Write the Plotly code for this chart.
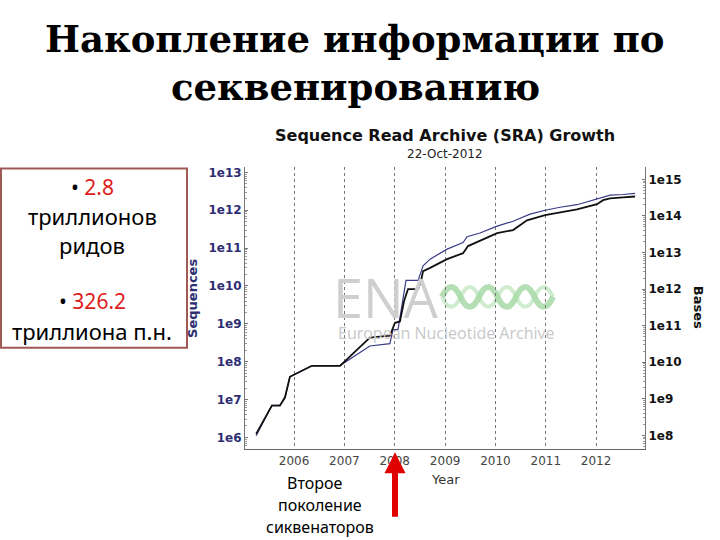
import plotly.graph_objects as go

# ---- data ----
seq_dates = ["2005-04-01", "2005-07-24", "2005-09-20", "2005-10-27", "2005-12-02",
             "2006-05-11", "2006-11-30", "2007-07-05", "2007-11-27", "2007-12-20",
             "2008-01-25", "2008-02-23", "2008-03-23", "2008-06-19", "2008-07-25",
             "2008-09-14", "2009-01-15", "2009-05-11", "2009-06-09", "2009-09-11",
             "2010-01-13", "2010-05-09", "2010-09-09", "2010-12-27", "2011-04-15",
             "2011-08-16", "2012-01-08", "2012-04-12", "2012-07-15", "2012-10-10"]
seq_values = [1.1e6, 7.0e6, 7.0e6, 1.1e7, 4.0e7,
              7.9e7, 7.9e7, 2.6e8, 3.0e8, 7.0e8,
              7.0e8, 3.0e9, 1.4e10, 1.4e10, 3.4e10,
              5.1e10, 9.4e10, 1.4e11, 2.0e11, 2.5e11,
              3.8e11, 5.1e11, 7.9e11, 1.0e12, 1.2e12,
              1.4e12, 2.0e12, 2.5e12, 2.6e12, 2.8e12]

base_dates = ["2005-04-01", "2005-07-24", "2005-09-20", "2005-10-27", "2005-12-02",
              "2006-05-11", "2006-11-30", "2007-07-05", "2007-11-27", "2008-01-03",
              "2008-02-08", "2008-03-09", "2008-04-07", "2008-06-19", "2008-07-10",
              "2008-07-25", "2008-09-14", "2009-01-15", "2009-05-11", "2009-06-16",
              "2010-01-13", "2010-05-09", "2010-08-18", "2010-12-27", "2011-08-16",
              "2012-01-08", "2012-02-21", "2012-04-12", "2012-07-15", "2012-10-10"]
base_values = [1.1e8, 6.5e8, 6.5e8, 1.1e9, 4.0e9,
               8.0e9, 8.0e9, 4.7e10, 5.3e10, 1.2e11,
               1.3e11, 4.7e11, 1.0e12, 1.0e12, 1.7e12,
               3.1e12, 3.8e12, 6.6e12, 9.6e12, 1.5e13,
               3.4e13, 4.1e13, 7.6e13, 1.05e14, 1.5e14,
               2.1e14, 2.7e14, 3.0e14, 3.2e14, 3.4e14]

year_ticks = ["2006-01-01", "2007-01-01", "2008-01-01", "2009-01-01",
              "2010-01-01", "2011-01-01", "2012-01-01"]
year_labels = ["2006", "2007", "2008", "2009", "2010", "2011", "2012"]
seq_tickvals = [1e6, 1e7, 1e8, 1e9, 1e10, 1e11, 1e12, 1e13]
seq_ticktext = ["1e6", "1e7", "1e8", "1e9", "1e10", "1e11", "1e12", "1e13"]
base_tickvals = [1e8, 1e9, 1e10, 1e11, 1e12, 1e13, 1e14, 1e15]
base_ticktext = ["1e8", "1e9", "1e10", "1e11", "1e12", "1e13", "1e14", "1e15"]

W, H = 720, 540


def px(x):
    return x / W


def py(y):
    return 1 - y / H


NAVY = "#2e2e72"

fig = go.Figure()
fig.add_trace(go.Scatter(x=seq_dates, y=seq_values, mode="lines", name="Sequences",
                         line=dict(color="#3a3a88", width=1.2)))
fig.add_trace(go.Scatter(x=base_dates, y=base_values, mode="lines", name="Bases",
                         yaxis="y2", line=dict(color="#111111", width=1.8)))

fig.update_layout(
    width=W, height=H,
    margin=dict(l=0, r=0, t=0, b=0),
    paper_bgcolor="white", plot_bgcolor="white",
    showlegend=False,
    xaxis=dict(type="date", domain=[px(245), px(645)],
               range=["2005-01-10", "2012-12-21"],
               tickvals=year_ticks, ticktext=year_labels,
               showgrid=True, gridcolor="#777777", griddash="dot", gridwidth=1,
               showline=True, linecolor="#666666", linewidth=1,
               ticks="", zeroline=False,
               tickfont=dict(family="DejaVu Sans", size=12, color="#444444")),
    yaxis=dict(type="log", domain=[py(449), py(166)], range=[5.684, 13.132],
               tickvals=seq_tickvals, ticktext=seq_ticktext,
               showgrid=False, zeroline=False,
               showline=True, linecolor="#777777", linewidth=1,
               ticks="inside", ticklen=3, tickcolor="#777777",
               minor=dict(ticks="inside", ticklen=2, tickcolor="#999999", dtick="D1"),
               tickfont=dict(family="DejaVu Sans", size=12, color=NAVY, weight="bold")),
    yaxis2=dict(type="log", overlaying="y", side="right", anchor="x",
                range=[7.619, 15.327],
                tickvals=base_tickvals, ticktext=base_ticktext,
                showgrid=False, zeroline=False,
                showline=True, linecolor="#777777", linewidth=1,
                ticks="inside", ticklen=3, tickcolor="#777777",
                minor=dict(ticks="inside", ticklen=2, tickcolor="#999999", dtick="D1"),
                tickfont=dict(family="DejaVu Sans", size=12, color="#111111", weight="bold")),
)

ann = []


def add_text(text, x, y, size, color="#000000", family="DejaVu Sans", weight="normal",
             angle=0, xanchor="center"):
    ann.append(dict(text=text, x=px(x), y=py(y), xref="paper", yref="paper",
                    showarrow=False, xanchor=xanchor, yanchor="middle", textangle=angle,
                    font=dict(family=family, size=size, color=color, weight=weight)))


# ENA watermark
add_text("ENA", 386, 296, 54, color="#cfcfcf", family="Open Sans")
add_text("European Nucleotide Archive", 446, 332, 16, color="#c8c8c8", family="Open Sans")

# headings
add_text("Накопление информации по", 354, 37, 37, family="DejaVu Serif", weight="bold")
add_text("секвенированию", 355, 85, 37, family="DejaVu Serif", weight="bold")

# chart titles
add_text("Sequence Read Archive (SRA) Growth", 445, 134, 16, color="#111111", weight="bold")
add_text("22-Oct-2012", 445, 153, 12, color="#222222")
add_text("Year", 445, 479, 13, color="#333333")
add_text("Sequences", 193, 298, 13, color=NAVY, weight="bold", angle=-90)
add_text("Bases", 698, 306, 13, color="#111111", weight="bold", angle=90)

# left box text
RED = "#e01b1b"
add_text("• <span style='color:%s'>2.8</span>" % RED, 92, 186, 21, family="Noto Sans")
add_text("триллионов", 92, 215, 22, family="Noto Sans")
add_text("ридов", 92, 244, 22, family="Noto Sans")
add_text("• <span style='color:%s'>326.2</span>" % RED, 92, 300, 21, family="Noto Sans")
add_text("триллиона п.н.", 92, 330, 22, family="Noto Sans")

# bottom caption
add_text("Второе", 314, 483, 16, family="Noto Sans")
add_text("поколение", 320, 505, 16, family="Noto Sans")
add_text("сиквенаторов", 320, 527, 16, family="Noto Sans")

# red arrow
ann.append(dict(x=px(395), y=py(452), xref="paper", yref="paper",
                ax=0, ay=66, axref="pixel", ayref="pixel", text="",
                showarrow=True, arrowhead=2, arrowsize=0.7, arrowwidth=6,
                arrowcolor="#e00000", standoff=0))

fig.update_layout(annotations=ann)

# box and ENA wave logo
shapes = [dict(type="rect", xref="paper", yref="paper",
               x0=px(1), x1=px(187), y0=py(347), y1=py(167),
               line=dict(color="#a05a55", width=2), fillcolor="rgba(0,0,0,0)")]


def wave_path(x0, yc, amp, half, n, sign):
    s = "M %.4f,%.4f" % (px(x0), py(yc))
    x = x0
    for i in range(n):
        cy = yc - sign * 2 * amp * (1 if i % 2 == 0 else -1)
        s += " Q %.4f,%.4f %.4f,%.4f" % (px(x + half / 2), py(cy), px(x + half), py(yc))
        x += half
    return s


shapes.append(dict(type="path", xref="paper", yref="paper", layer="below",
                   path=wave_path(442, 296, 10, 18.5, 6, 1),
                   line=dict(color="rgba(140,205,140,0.65)", width=6)))
shapes.append(dict(type="path", xref="paper", yref="paper", layer="below",
                   path=wave_path(442, 296, 10, 18.5, 6, -1),
                   line=dict(color="rgba(170,220,170,0.55)", width=4)))
fig.update_layout(shapes=shapes)

fig.write_html("out.html",
               config={"displayModeBar": False},
               post_script="document.body.style.margin='0';"
                           "document.body.style.overflow='hidden';")
